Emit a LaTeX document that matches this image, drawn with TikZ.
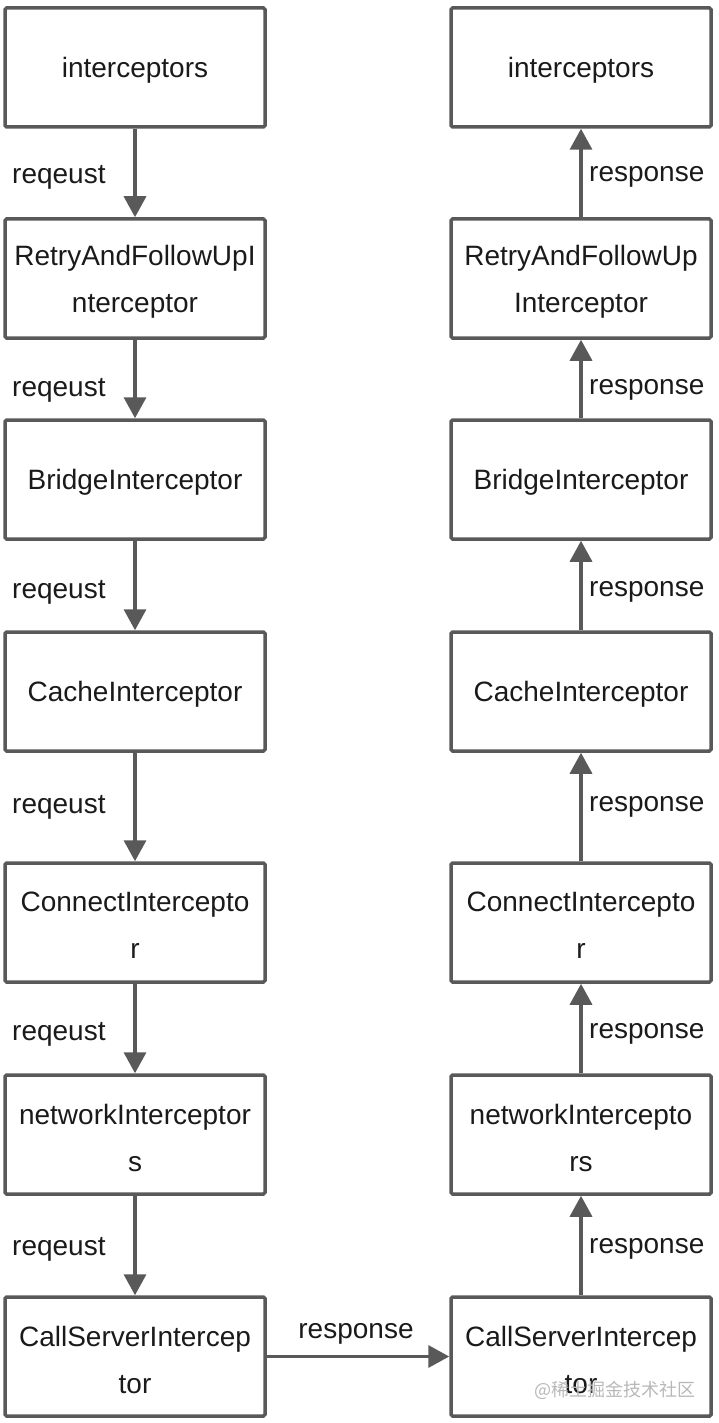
\documentclass[tikz,border=0pt]{standalone}
\usepackage{fontspec}
\setmainfont{Liberation Sans}
\newfontfamily\cjk{Noto Sans CJK SC}
\usetikzlibrary{arrows.meta}
\definecolor{linegray}{HTML}{595959}
\definecolor{textdark}{HTML}{1A1A1A}
\definecolor{wmgray}{HTML}{B8B8B8}
\newcommand\ibox[3]{\node[box] (#1) at (#2) {}; \node[boxtxt] (#1t) at ([yshift=-3pt]#1.center) {#3};}
\begin{document}
\begin{tikzpicture}[x=1pt,y=-1pt,
  box/.style={draw=linegray,line width=3.5pt,rounded corners=1.5pt,minimum width=260pt,minimum height=119pt,inner sep=0pt},
  boxtxt/.style={inner sep=0pt,align=center,text=textdark,font=\fontsize{28}{47}\selectfont},
  arr/.style={draw=linegray,line width=3.5pt,-{Triangle[width=22pt,length=21pt]}},
  lbl/.style={anchor=west,inner sep=0pt,text=textdark,font=\fontsize{28}{34}\selectfont}]
\useasboundingbox (0,0) rectangle (719,1423);
% left column
\ibox{L1}{135,67.5}{interceptors}
\ibox{L2}{135,278.5}{RetryAndFollowUpI\\nterceptor}
\ibox{L3}{135,479.5}{BridgeInterceptor}
\ibox{L4}{135,691.5}{CacheInterceptor}
\ibox{L5}{135,922.5}{ConnectIntercepto\\r}
\ibox{L6}{135,1134.5}{networkInterceptor\\s}
\ibox{L7}{135,1356.5}{CallServerIntercep\\tor}
% right column
\ibox{R1}{581,67.5}{interceptors}
\ibox{R2}{581,278.5}{RetryAndFollowUp\\Interceptor}
\ibox{R3}{581,479.5}{BridgeInterceptor}
\ibox{R4}{581,691.5}{CacheInterceptor}
\ibox{R5}{581,922.5}{ConnectIntercepto\\r}
\ibox{R6}{581,1134.5}{networkIntercepto\\rs}
\ibox{R7}{581,1356.5}{CallServerIntercep\\tor}
% left arrows
\draw[arr] (L1.south) -- (L2.north);
\draw[arr] (L2.south) -- (L3.north);
\draw[arr] (L3.south) -- (L4.north);
\draw[arr] (L4.south) -- (L5.north);
\draw[arr] (L5.south) -- (L6.north);
\draw[arr] (L6.south) -- (L7.north);
% right arrows
\draw[arr] (R2.north) -- (R1.south);
\draw[arr] (R3.north) -- (R2.south);
\draw[arr] (R4.north) -- (R3.south);
\draw[arr] (R5.north) -- (R4.south);
\draw[arr] (R6.north) -- (R5.south);
\draw[arr] (R7.north) -- (R6.south);
% bottom
\draw[arr] (L7.east) -- (R7.west);
% labels
\node[lbl] (ql1) at (12,177) {reqeust};
\node[lbl] (ql2) at (12,390) {reqeust};
\node[lbl] (ql3) at (12,592) {reqeust};
\node[lbl] (ql4) at (12,807) {reqeust};
\node[lbl] (ql5) at (12,1034) {reqeust};
\node[lbl] (ql6) at (12,1249) {reqeust};
\node[lbl] (rl1) at (589,177) {response};
\node[lbl] (rl2) at (589,390) {response};
\node[lbl] (rl3) at (589,592) {response};
\node[lbl] (rl4) at (589,807) {response};
\node[lbl] (rl5) at (589,1034) {response};
\node[lbl] (rl6) at (589,1249) {response};
\node[lbl,anchor=center] (bl) at (356,1334) {response};
% watermark
\node[anchor=east,inner sep=0pt,text=wmgray,font=\cjk\fontsize{18}{20}\selectfont] (wm) at (696,1390) {@稀土掘金技术社区};
\end{tikzpicture}
\end{document}
